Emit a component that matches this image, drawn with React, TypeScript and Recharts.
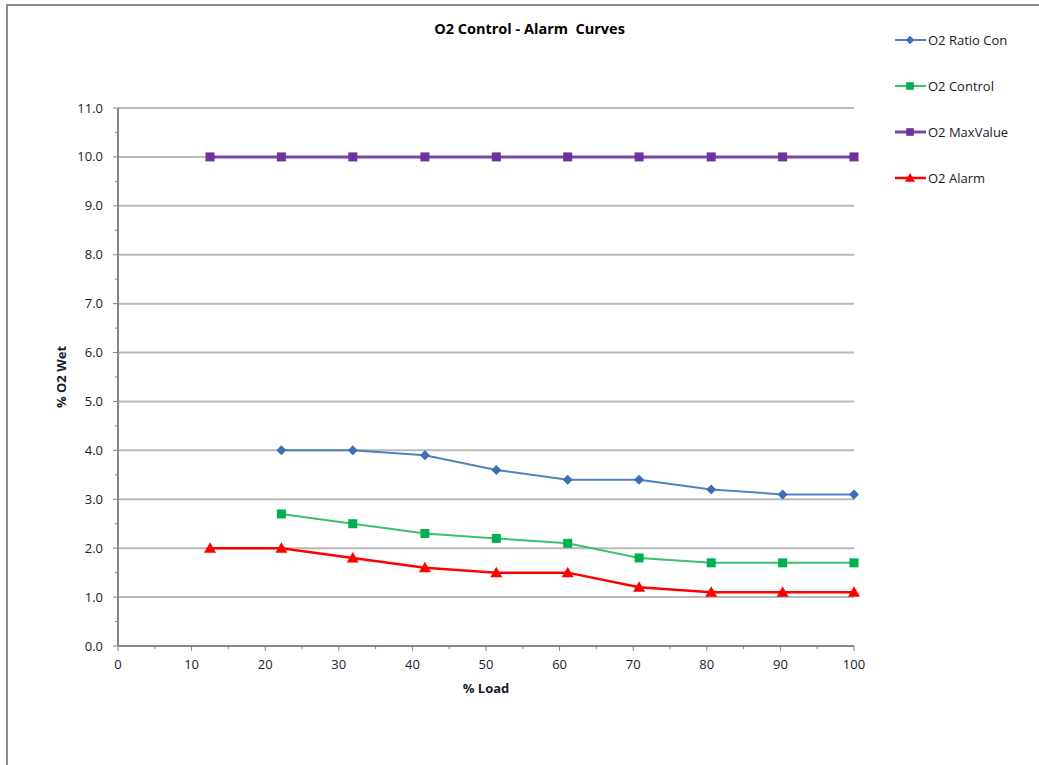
import React from 'react';
import { LineChart, Line, XAxis, YAxis, ReferenceLine } from 'recharts';

// % load for each point
const loads = [12.5, 22.2, 31.9, 41.7, 51.4, 61.1, 70.8, 80.6, 90.3, 100];
// null = no point at that load
const ratioCon = [null, 4.0, 4.0, 3.9, 3.6, 3.4, 3.4, 3.2, 3.1, 3.1];
const o2Control = [null, 2.7, 2.5, 2.3, 2.2, 2.1, 1.8, 1.7, 1.7, 1.7];
const maxValue = [10, 10, 10, 10, 10, 10, 10, 10, 10, 10];
const o2Alarm = [2.0, 2.0, 1.8, 1.6, 1.5, 1.5, 1.2, 1.1, 1.1, 1.1];

const yTicks = Array.from({ length: 23 }, (_, i) => i * 0.5);
const xTicks = Array.from({ length: 21 }, (_, i) => i * 5);
const gridValues = [1, 2, 3, 4, 5, 6, 7, 8, 9, 10, 11];

const FONT = '"Open Sans", "Liberation Sans", sans-serif';
const AXIS_GRAY = '#868686';
const GRID_GRAY = '#b8b8b8';
const TEXT = '#1a1a2a';

const series = [
  { key: 'ratio', name: 'O2 Ratio Con', values: ratioCon, line: '#4f81bd', fill: '#3c6eb4', width: 2, shape: 'diamond' },
  { key: 'control', name: 'O2 Control', values: o2Control, line: '#3cc06a', fill: '#00b050', width: 2, shape: 'square' },
  { key: 'max', name: 'O2 MaxValue', values: maxValue, line: '#7a45a8', fill: '#7030a0', width: 3, shape: 'square' },
  { key: 'alarm', name: 'O2 Alarm', values: o2Alarm, line: '#ff0000', fill: '#ff0000', width: 2.5, shape: 'triangle' },
];

const data = loads.map((load, i) => {
  const row: any = { load };
  series.forEach((s) => { row[s.key] = s.values[i]; });
  return row;
});

function Marker({ shape, cx, cy, fill, size = 1 }: any) {
  if (shape === 'diamond') {
    const r = 5 * size;
    return <polygon points={`${cx},${cy - r} ${cx + r},${cy} ${cx},${cy + r} ${cx - r},${cy}`} fill={fill} />;
  }
  if (shape === 'triangle') {
    const r = 6 * size;
    return <polygon points={`${cx},${cy - r} ${cx + r},${cy + r * 0.75} ${cx - r},${cy + r * 0.75}`} fill={fill} />;
  }
  const h = 4.5 * size;
  return <rect x={cx - h} y={cy - h} width={h * 2} height={h * 2} fill={fill} />;
}

const makeDot = (shape: string, fill: string) => (props: any) => {
  const { cx, cy, value, index } = props;
  if (value == null || cx == null || cy == null) return <g key={`e-${index}`} />;
  return (
    <g key={`d-${index}`}>
      <Marker shape={shape} cx={cx} cy={cy} fill={fill} />
    </g>
  );
};

const YTick = ({ x, y, payload }: any) => {
  const v = payload.value;
  const major = Math.abs(v - Math.round(v)) < 1e-6;
  return (
    <g>
      <line x1={x - (major ? 5 : 3)} x2={x} y1={y} y2={y} stroke={AXIS_GRAY} strokeWidth={1} />
      {major && (
        <text x={x - 15} y={y} dy={4.5} textAnchor="end" fontSize={13} fontFamily={FONT} fill={TEXT}>
          {v.toFixed(1)}
        </text>
      )}
    </g>
  );
};

const XTick = ({ x, y, payload }: any) => {
  const v = payload.value;
  const major = v % 10 === 0;
  return (
    <g>
      <line x1={x} x2={x} y1={y} y2={y + (major ? 5 : 3)} stroke={AXIS_GRAY} strokeWidth={1} />
      {major && (
        <text x={x} y={y} dy={23} textAnchor="middle" fontSize={13} fontFamily={FONT} fill={TEXT}>
          {v}
        </text>
      )}
    </g>
  );
};

export default function App() {
  return (
    <div style={{ position: 'fixed', left: 0, top: 0, width: 1039, height: 765, overflow: 'hidden', background: '#fff' }}>
      <div
        style={{
          position: 'absolute', left: 6, top: 4, width: 1100, height: 800,
          border: '2px solid #8c8c8c', boxSizing: 'border-box',
        }}
      />
      <div
        style={{
          position: 'absolute', left: 0, width: 1059, top: 19, textAlign: 'center', whiteSpace: 'pre',
          fontFamily: FONT, fontWeight: 700, fontSize: 14.5, color: '#000',
        }}
      >
        O2 Control - Alarm  Curves
      </div>
      <div style={{ position: 'absolute', left: 0, top: 0 }}>
        <LineChart width={1039} height={765} data={data} margin={{ top: 108, right: 185, bottom: 59, left: 58 }}>
          <XAxis
            dataKey="load"
            type="number"
            domain={[0, 100]}
            ticks={xTicks}
            interval={0}
            height={60}
            tickSize={0}
            tickMargin={0}
            tick={<XTick />}
            axisLine={{ stroke: AXIS_GRAY, strokeWidth: 2 }}
            label={{
              content: ({ viewBox }: any) => (
                <text
                  x={viewBox.x + viewBox.width / 2}
                  y={viewBox.y + 47}
                  textAnchor="middle"
                  fontSize={13}
                  fontWeight={700}
                  fontFamily={FONT}
                  fill={TEXT}
                >
                  % Load
                </text>
              ),
            }}
          />
          <YAxis
            type="number"
            domain={[0, 11]}
            ticks={yTicks}
            interval={0}
            width={60}
            tickSize={0}
            tickMargin={0}
            tick={<YTick />}
            axisLine={{ stroke: AXIS_GRAY, strokeWidth: 2 }}
            label={{
              content: ({ viewBox }: any) => {
                const cx = viewBox.x + 8;
                const cy = viewBox.y + viewBox.height / 2;
                return (
                  <text
                    x={cx}
                    y={cy}
                    transform={`rotate(-90, ${cx}, ${cy})`}
                    textAnchor="middle"
                    fontSize={13}
                    fontWeight={700}
                    fontFamily={FONT}
                    fill={TEXT}
                  >
                    % O2 Wet
                  </text>
                );
              },
            }}
          />
          {gridValues.map((v) => (
            <ReferenceLine key={`g-${v}`} y={v} stroke={GRID_GRAY} strokeWidth={2} />
          ))}
          {series.map((s) => (
            <Line
              key={s.key}
              dataKey={s.key}
              name={s.name}
              type="linear"
              stroke={s.line}
              strokeWidth={s.width}
              dot={makeDot(s.shape, s.fill)}
              activeDot={false}
              isAnimationActive={false}
            />
          ))}
        </LineChart>
      </div>
      <div style={{ position: 'absolute', left: 895, top: 30, fontFamily: FONT, fontSize: 13, color: TEXT }}>
        {series.map((s) => (
          <div key={s.key} style={{ display: 'flex', alignItems: 'center', height: 20, marginBottom: 26 }}>
            <svg width={32} height={20} style={{ display: 'block' }}>
              <line x1={0} x2={31} y1={10} y2={10} stroke={s.line} strokeWidth={s.width} />
              <Marker shape={s.shape} cx={15} cy={10} fill={s.fill} size={0.85} />
            </svg>
            <span style={{ marginLeft: 1 }}>{s.name}</span>
          </div>
        ))}
      </div>
    </div>
  );
}
